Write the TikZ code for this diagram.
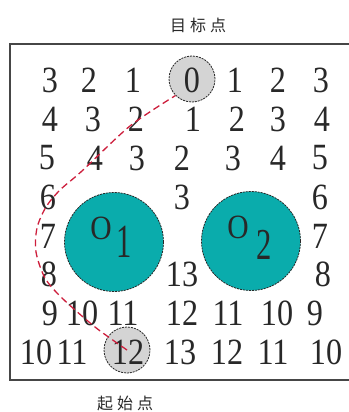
\documentclass[tikz,border=0pt]{standalone}
\usepackage{fontspec}
\setmainfont{Liberation Serif}
\newfontfamily\cjk{Noto Sans CJK SC}
\newcommand{\dg}[1]{\scalebox{0.87}[1]{#1}}
\definecolor{txt}{RGB}{40,40,40}
\definecolor{boxline}{RGB}{70,70,70}
\definecolor{teal2}{RGB}{10,172,172}
\definecolor{route}{RGB}{205,30,60}
\definecolor{gfill}{RGB}{212,212,212}
\tikzset{
  num/.style={font=\rmfamily\fontsize{37}{37}\selectfont, inner sep=0pt, text=txt},
  lab/.style={font=\rmfamily\fontsize{34}{34}\selectfont, inner sep=0pt, text=txt},
  gcirc/.style={circle, draw=txt, dash pattern=on 2pt off 1pt, line width=0.8pt, fill=gfill, minimum size=46pt, inner sep=0pt},
  obst/.style={circle, draw=txt, dash pattern=on 2pt off 1pt, line width=0.8pt, fill=teal2, minimum size=99pt, inner sep=0pt},
  title/.style={font=\cjk\fontsize{16}{16}\selectfont, inner sep=0pt, text=txt},
  routeline/.style={draw=route, line width=1.3pt, dash pattern=on 7pt off 4pt},
  frame/.style={draw=boxline, line width=2.5pt}
}
\begin{document}
\begin{tikzpicture}[x=1pt,y=-1pt]
\useasboundingbox (0,0) rectangle (348,412);
\draw[frame] (10,44) rectangle (360,380);
% circles
\node[gcirc] (c0) at (192,79) {};
\node[gcirc] (c12) at (127,350) {};
\node[obst] (o1) at (114,242) {};
\node[obst] (o2) at (251,241) {};
% obstacle labels
\node[lab] (o1a) at (101,228) {\dg{O}};
\node[lab] (o1b) at (124,242) {\scalebox{0.9}[1.4]{1}};
\node[lab] (o2a) at (238,227) {\dg{O}};
\node[lab] (o2b) at (264,245) {\scalebox{0.9}[1.3]{2}};
% rows
\foreach \x/\t [count=\i] in {50/3,89/2,133/1,192/0,235/1,278/2,321/3}
  \node[num] (ra\i) at (\x,80) {\dg{\t}};
\foreach \x/\t [count=\i] in {50/4,93/3,136/2,193/1,237/2,278/3,322/4}
  \node[num] (rb\i) at (\x,119) {\dg{\t}};
\foreach \x/\t [count=\i] in {47/5,95/4,137/3,182/2,233/3,278/4,320/5}
  \node[num] (rc\i) at (\x,158) {\dg{\t}};
\foreach \x/\t [count=\i] in {48/6,182/3,320/6}
  \node[num] (rd\i) at (\x,197) {\dg{\t}};
\foreach \x/\t [count=\i] in {48/7,320/7}
  \node[num] (re\i) at (\x,236) {\dg{\t}};
\foreach \x/\t [count=\i] in {49/8,182/13,323/8}
  \node[num] (rf\i) at (\x,274) {\dg{\t}};
\foreach \x/\t [count=\i] in {50/9,82/10,123/11,182/12,228/11,277/10,315/9}
  \node[num] (rg\i) at (\x,313) {\dg{\t}};
\foreach \x/\t [count=\i] in {36/10,72/11,128/12,180/13,227/12,273/11,326/10}
  \node[num] (rh\i) at (\x,352) {\dg{\t}};
% titles
\node[title] (goal) at (198,25) {目\hspace{4pt}标\hspace{4pt}点};
\node[title] (start) at (125,403) {起\hspace{4pt}始\hspace{4pt}点};
% route
\coordinate (p1) at (95,327);
\coordinate (p2) at (62,298);
\coordinate (p3) at (45,278);
\coordinate (p4) at (36,252);
\coordinate (p5) at (37,228);
\coordinate (p6) at (46,207);
\coordinate (p7) at (60,190);
\coordinate (p8) at (82,171);
\coordinate (p9) at (130,126);
\draw[routeline] plot[smooth, tension=0.5] coordinates {(c12.center) (p1) (p2) (p3) (p4) (p5) (p6) (p7) (p8) (p9) (c0.225)};
\end{tikzpicture}
\end{document}
